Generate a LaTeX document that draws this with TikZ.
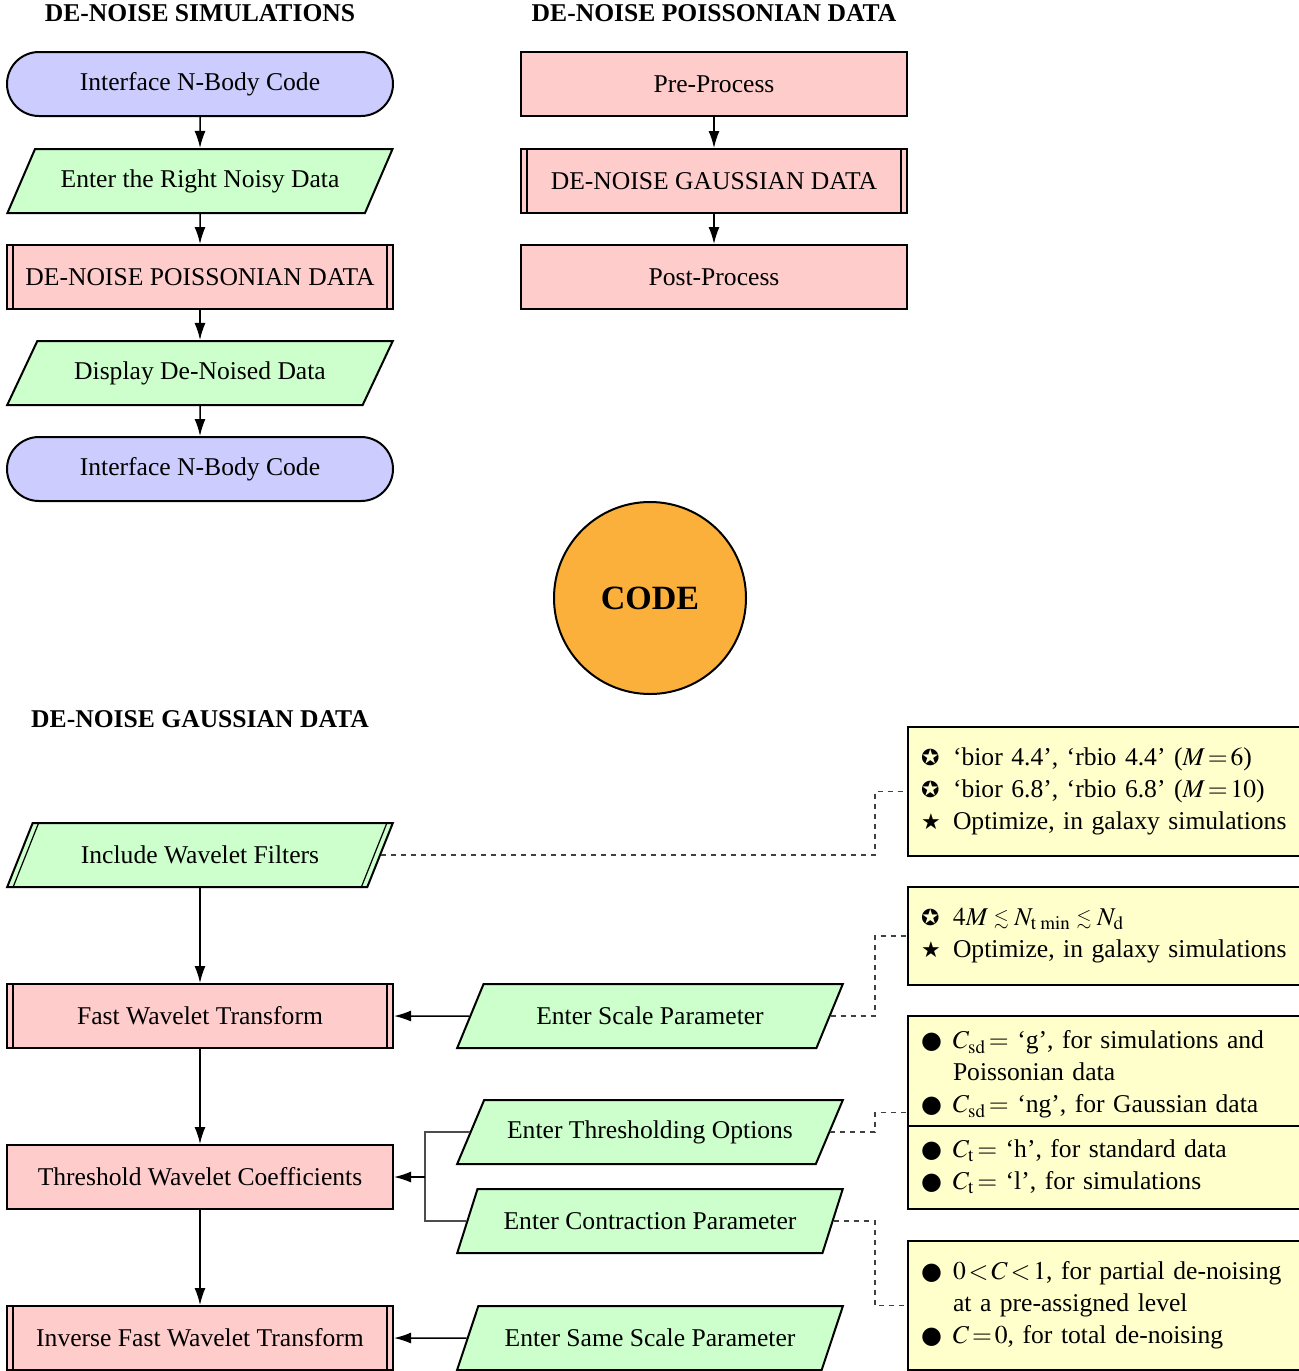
\documentclass[tikz,border=0pt]{standalone}
\usepackage{mathptmx}
\usepackage{amssymb}
\usepackage{graphicx}
\usepackage{fontspec}
\setmainfont{Liberation Serif}
\newfontfamily\symfont{DejaVu Sans}
\usetikzlibrary{shapes.geometric,arrows.meta,calc}
\definecolor{termblue}{RGB}{204,204,255}
\definecolor{iogreen}{RGB}{204,255,204}
\definecolor{procpink}{RGB}{255,204,204}
\definecolor{noteyellow}{RGB}{255,255,204}
\definecolor{codeorange}{RGB}{251,176,59}
\newcommand{\bstar}{\makebox[16pt][l]{{\symfont\fontsize{11}{16}\selectfont ✪}}}
\newcommand{\fstar}{\makebox[16pt][l]{{\symfont\fontsize{11}{16}\selectfont ★}}}
\newcommand{\bdot}{\makebox[16pt][l]{{\symfont\fontsize{12}{16}\selectfont ●}}}
\newcommand{\bnone}{\makebox[16pt][l]{}}
\newcommand{\lsim}{\mathrel{\raisebox{0.1ex}{\scalebox{0.75}{$\lesssim$}}}}
\begin{document}
\begin{tikzpicture}[x=0.5pt,y=-0.5pt,
  font=\fontsize{12.8}{16}\selectfont,
  base/.style={draw=black, line width=1pt, minimum height=32pt, inner sep=0pt},
  term/.style={base, rectangle, rounded corners=16pt, fill=termblue, minimum width=193pt},
  io/.style={base, trapezium, trapezium left angle=45, trapezium right angle=135,
     trapezium stretches=true, fill=iogreen, minimum width=193pt},
  proc/.style={base, rectangle, fill=procpink, minimum width=193pt},
  sub/.style={proc, path picture={
     \draw[line width=0.6pt] ([xshift=3pt]path picture bounding box.north west) -- ([xshift=3pt]path picture bounding box.south west)
       ([xshift=-3pt]path picture bounding box.north east) -- ([xshift=-3pt]path picture bounding box.south east);}},
  title/.style={font=\fontsize{12.8}{16}\selectfont\bfseries},
  note/.style={draw=black, line width=1pt, fill=noteyellow, anchor=west, inner xsep=6.5pt, inner ysep=0pt,
     text width=198pt, align=left},
  arr/.style={-{Latex[length=8.5pt,width=5.5pt]}, line width=0.75pt},
  joinline/.style={line width=0.6pt, draw=black!70},
  dsh/.style={dash pattern=on 2.5pt off 2.5pt, line width=0.6pt, draw=black!75}
]
\useasboundingbox (0,0) rectangle (1298,1371);

% top-left flow
\node[title] (tl) at (200,13) {DE-NOISE SIMULATIONS};
\node[term] (t1) at (200,84) {Interface N-Body Code};
\node[io] (e1) at (200,181) {Enter the Right Noisy Data};
\node[sub] (p1) at (200,277) {DE-NOISE POISSONIAN DATA};
\node[io] (d1) at (200,373) {Display De-Noised Data};
\node[term] (t2) at (200,469) {Interface N-Body Code};
\draw[arr] (t1) -- (e1);
\draw[arr] (e1) -- (p1);
\draw[arr] (p1) -- (d1);
\draw[arr] (d1) -- (t2);

% top-right flow
\node[title] (tr) at (714,13) {DE-NOISE POISSONIAN DATA};
\node[proc] (pre) at (714,84) {Pre-Process};
\node[sub] (g1) at (714,181) {DE-NOISE GAUSSIAN DATA};
\node[proc] (post) at (714,277) {Post-Process};
\draw[arr] (pre) -- (g1);
\draw[arr] (g1) -- (post);

% code circle
\node[circle, draw=black, line width=1pt, fill=codeorange, minimum size=96pt, inner sep=0pt,
      font=\fontsize{17}{20}\selectfont\bfseries] (code) at (650,598) {CODE};

% bottom flow
\node[title] (tb) at (200,719) {DE-NOISE GAUSSIAN DATA};
\node[io] (inc) at (200,855) {Include Wavelet Filters};
\draw[line width=0.6pt] ([xshift=3.5pt]inc.bottom left corner) -- ([xshift=3.5pt]inc.top left corner)
  ([xshift=-3.5pt]inc.bottom right corner) -- ([xshift=-3.5pt]inc.top right corner);
\node[sub] (fwt) at (200,1016) {Fast Wavelet Transform};
\node[proc] (thr) at (200,1177) {Threshold Wavelet Coefficients};
\node[sub] (ifwt) at (200,1338) {Inverse Fast Wavelet Transform};
\draw[arr] (inc) -- (fwt);
\draw[arr] (fwt) -- (thr);
\draw[arr] (thr) -- (ifwt);

\node[io] (sc) at (650,1016) {Enter Scale Parameter};
\node[io] (to) at (650,1132) {Enter Thresholding Options};
\node[io] (cp) at (650,1221) {Enter Contraction Parameter};
\node[io] (ss) at (650,1338) {Enter Same Scale Parameter};

\draw[arr] (sc.west) -- (fwt.east);
\draw[arr] (ss.west) -- (ifwt.east);
\coordinate (j) at (425,1177);
\draw[joinline] (to.west) -| (j |- cp.west) -- (cp.west);
\draw[arr] (j) -- (thr.east);

% notes
\node[note, minimum height=64.5pt] (n1) at (907,791.5) {%
\bstar‘bior 4.4’, ‘rbio 4.4’ ($M\!=\!6$)\\
\bstar‘bior 6.8’, ‘rbio 6.8’ ($M\!=\!10$)\\
\fstar Optimize, in galaxy simulations};
\node[note, minimum height=49pt] (n2) at (907,936) {%
\bstar$4M\lsim N_{\mathrm{t\;min}}\lsim N_{\mathrm{d}}$\\
\fstar Optimize, in galaxy simulations};
\node[note, minimum height=96.5pt,
  path picture={\draw[line width=0.8pt] ([yshift=-55pt]path picture bounding box.north west) -- ([yshift=-55pt]path picture bounding box.north east);}]
  (n3) at (907,1112.5) {%
\bdot$C_{\mathrm{sd}}\!=$ ‘g’, for simulations and\\
\bnone Poissonian data\\
\bdot$C_{\mathrm{sd}}\!=$ ‘ng’, for Gaussian data\\[6.5pt]
\bdot$C_{\mathrm{t}}\!=$ ‘h’, for standard data\\
\bdot$C_{\mathrm{t}}\!=$ ‘l’, for simulations};
\node[note, minimum height=64.5pt] (n4) at (907,1305.5) {%
\bdot$0\!<\!C\!<\!1$, for partial de-noising\\
\bnone at a pre-assigned level\\
\bdot$C\!=\!0$, for total de-noising};

\coordinate (dx) at (875,0);
\draw[dsh] (inc.east) -- (inc.east -| dx) |- (n1.west);
\draw[dsh] (sc.east) -- (sc.east -| dx) |- (n2.west);
\draw[dsh] (to.east) -- (to.east -| dx) |- (n3.west);
\draw[dsh] (cp.east) -- (cp.east -| dx) |- (n4.west);
\end{tikzpicture}
\end{document}
